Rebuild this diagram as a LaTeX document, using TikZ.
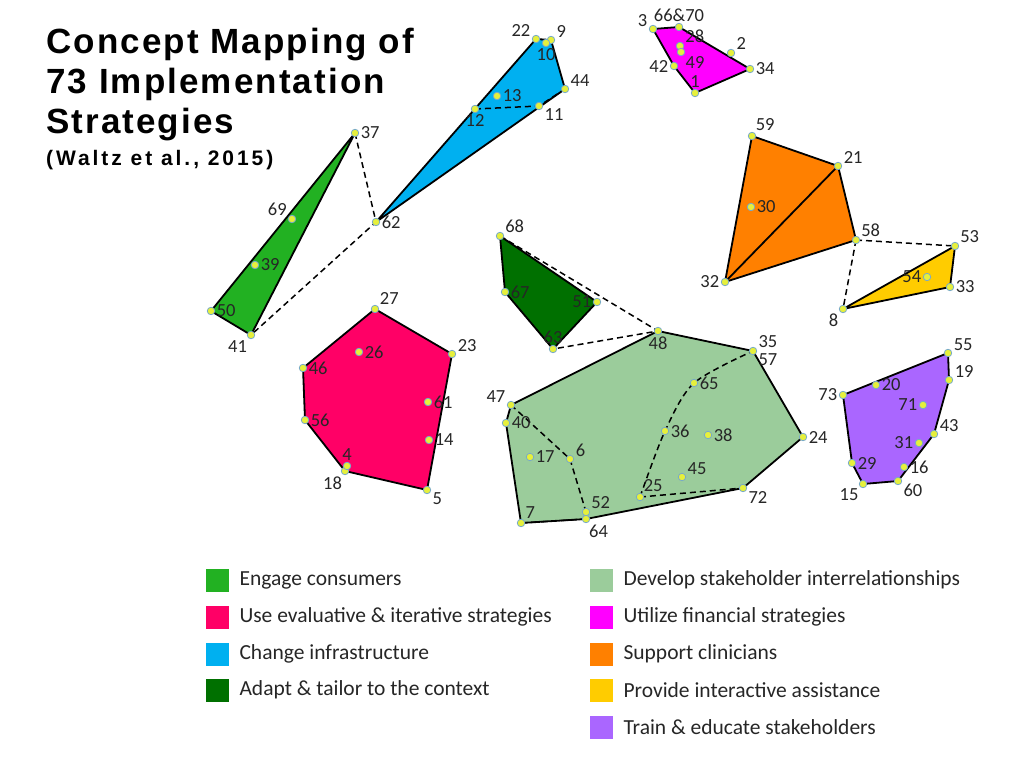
\documentclass[tikz,border=0pt]{standalone}
\usepackage{fontspec}
\setmainfont{Carlito}
\newfontfamily\titlefont[LetterSpace=6]{Liberation Sans}
\newfontfamily\citefont[LetterSpace=14]{Liberation Sans}
\usetikzlibrary{positioning}
\definecolor{engage}{RGB}{34,177,34}
\definecolor{evalu}{RGB}{255,0,102}
\definecolor{infra}{RGB}{0,176,240}
\definecolor{adapt}{RGB}{0,112,0}
\definecolor{relat}{RGB}{155,204,155}
\definecolor{finan}{RGB}{255,0,255}
\definecolor{clinic}{RGB}{255,128,0}
\definecolor{assist}{RGB}{255,204,0}
\definecolor{train}{RGB}{170,102,255}
\definecolor{dotfill}{RGB}{230,240,60}
\definecolor{dotedge}{RGB}{120,170,200}
\tikzset{
  cluster/.style={draw=black, line width=1.8pt, line join=round},
  link/.style={line width=1.5pt, dash pattern=on 6pt off 4pt},
  lbl/.style={font=\fontsize{18.5}{18.5}\selectfont, inner sep=1.5pt, text=black!85},
  swatch/.style={minimum width=23pt, minimum height=23pt, inner sep=0pt},
  legtext/.style={font=\fontsize{21.5}{21.5}\selectfont, anchor=west, text=black!85},
  dot/.style={circle, draw=dotedge, fill=dotfill, line width=0.8pt, inner sep=0pt, minimum size=7.5pt},
}
\begin{document}
\begin{tikzpicture}[x=1pt, y=-1pt]
\useasboundingbox (0,0) rectangle (1024,768);
% strategy positions
\foreach \n/\x/\y in {37/355/133, 69/292/219, 39/255/265, 50/211/311, 41/251/335, 62/376/222,
  22/536/39, 9/551/40, 10/546/43, 44/565/89, 11/539/106, 12/475/109, 13/497/96,
  3/653/29, 66/679/27, 28/680/46, 49/681/52, 2/731/53, 34/750/69, 42/674/66, 1/695/93,
  59/752/136, 21/838/166, 58/856/240, 32/725/282, 30/751/207,
  53/955/246, 54/927/277, 33/950/287, 8/843/309,
  68/500/236, 67/505/292, 51/597/302, 63/553/349,
  27/375/309, 23/452/354, 61/428/402, 14/429/440, 5/427/490, 18/345/471, 4/347/466, 56/305/420, 46/303/368, 26/359/352,
  48/658/331, 35/753/351, 24/803/437, 72/743/488, 64/586/519, 52/586/512, 7/521/523, 40/506/423, 47/511/405,
  17/530/457, 6/570/459, 65/694/383, 36/665/431, 38/708/435, 45/682/477, 25/640/497,
  55/948/353, 19/949/380, 43/934/434, 16/904/467, 60/898/481, 15/863/484, 29/852/463, 73/843/395, 20/876/385, 71/923/405, 31/919/443}
  \coordinate (p\n) at (\x,\y);

% clusters
\draw[cluster, fill=engage] (p37) -- (p50) -- (p41) -- cycle;
\draw[cluster, fill=infra] (p22) -- (p9) -- (p44) -- (p62) -- cycle;
\draw[cluster, fill=finan] (p3) -- (p66) -- (p34) -- (p1) -- (p42) -- cycle;
\draw[cluster, fill=clinic] (p59) -- (p21) -- (p58) -- (p32) -- cycle;
\draw[cluster] (p21) -- (p32);
\draw[cluster, fill=assist] (p53) -- (p33) -- (p8) -- cycle;
\draw[cluster, fill=adapt] (p68) -- (p51) -- (p63) -- (p67) -- cycle;
\draw[cluster, fill=evalu] (p27) -- (p23) -- (p5) -- (p18) -- (p56) -- (p46) -- cycle;
\draw[cluster, fill=relat] (p48) -- (p35) -- (p24) -- (p72) -- (p64) -- (p7) -- (p40) -- (p47) -- cycle;
\draw[cluster, fill=train] (p55) -- (p19) -- (p43) -- (p60) -- (p15) -- (p29) -- (p73) -- cycle;

% dashed links
\draw[link] (p37) -- (p62) -- (p41);
\draw[link] (p12) -- (p11) -- (p44);
\draw[link] (p58) -- (p53);
\draw[link] (p58) -- (p8);
\draw[link] (p68) -- (p48) -- (p63);
\draw[link] (p47) -- (p6) -- (p52);
\draw[link] (p7) -- (p64);
\draw[link] (p25) -- (p72);
\draw[link] plot[smooth] coordinates {(p25) (p36) (p65) (p35)};

% dots and labels
\foreach \n/\a in {37/0, 69/150, 39/0, 50/0, 41/235, 62/0,
  22/165, 9/15, 10/270, 44/15, 11/-15, 12/270, 13/0,
  3/165, 28/25, 49/-45, 2/20, 34/0, 42/180, 1/90,
  59/60, 21/10, 58/30, 32/180, 30/0,
  53/30, 54/180, 33/0, 8/220,
  68/30, 67/0, 51/180, 63/90,
  27/40, 23/10, 61/0, 14/0, 5/-20, 18/250, 4/90, 56/0, 46/0, 26/0,
  48/270, 24/0, 72/-20, 64/-70, 52/30, 7/45, 40/0, 47/165,
  17/0, 6/10, 65/0, 36/0, 38/0, 45/15, 25/60,
  55/10, 19/10, 43/10, 16/0, 60/-20, 15/225, 29/0, 73/180, 20/0, 71/180, 31/180}
  \node[dot, label={[lbl]\a:\n}] (d\n) at (p\n) {};
\node[dot, label={[lbl]90:66\&70}] (d66) at (p66) {};
\node[dot, label={[lbl]20:35}, label={[lbl]-20:57}] (d35) at (p35) {};

% title
\node[anchor=north west, align=left, inner sep=0pt, font=\titlefont\bfseries\fontsize{35}{40}\selectfont] (title) at (46,28)
  {Concept Mapping of\\73 Implementation\\Strategies};
\node[anchor=north west, inner sep=0pt, font=\citefont\bfseries\fontsize{21}{21}\selectfont] (cite) at (46,150)
  {(Waltz et al., 2015)};

% legend
\foreach \c/\t/\y in {engage/Engage consumers/580, evalu/Use evaluative \& iterative strategies/617,
  infra/Change infrastructure/654, adapt/Adapt \& tailor to the context/690} {
  \node[swatch, fill=\c] (s\y) at (217,\y) {};
  \node[legtext] at (236,\y) {\t};
}
\foreach \c/\t/\y in {relat/Develop stakeholder interrelationships/580, finan/Utilize financial strategies/617,
  clinic/Support clinicians/654, assist/Provide interactive assistance/690, train/Train \& educate stakeholders/727} {
  \node[swatch, fill=\c] (r\y) at (601,\y) {};
  \node[legtext] at (620,\y) {\t};
}
\end{tikzpicture}
\end{document}
